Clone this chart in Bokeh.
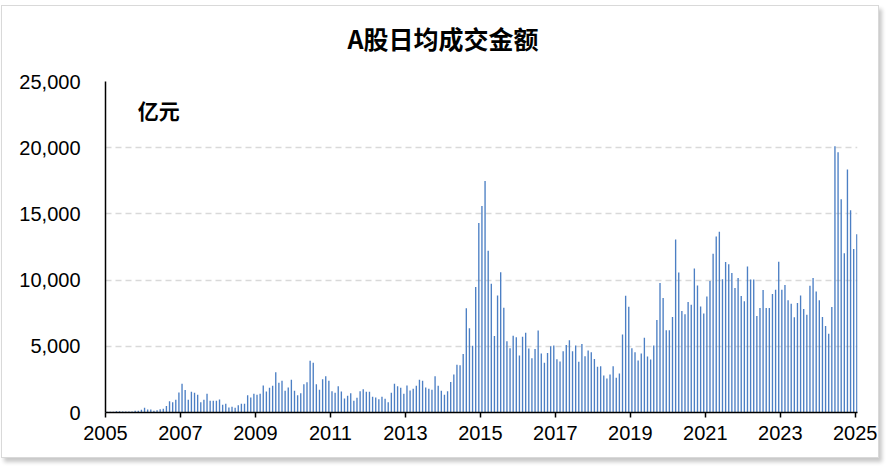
from bokeh.plotting import figure
from bokeh.models import ColumnDataSource, FixedTicker, NumeralTickFormatter, Label, Range1d, Title
from bokeh.embed import file_html
from bokeh.resources import INLINE

# monthly average daily turnover of A-shares (亿元), Jan 2005 onward
turnover = [
    60, 60, 60, 100, 100, 80, 80, 80, 75, 125, 125, 200,
    350, 225, 225, 125, 175, 250, 275, 500, 855, 780, 955, 1510,
    2165, 1690, 955, 1560, 1485, 1335, 780, 955, 1410, 880, 880, 880,
    980, 580, 655, 380, 430, 350, 555, 655, 655, 1310, 1135, 1410,
    1335, 1410, 2040, 1585, 1865, 2015, 3045, 2240, 2390, 1635, 1890, 2470,
    1635, 1310, 1460, 2140, 2290, 3900, 3750, 2140, 1710, 2520, 2745, 2390,
    1610, 1485, 1990, 1585, 1060, 1260, 1460, 880, 1110, 1610, 1760, 1560,
    1560, 1185, 1135, 1005, 1185, 1030, 780, 1485, 2165, 1990, 1865, 1410,
    2040, 1660, 1790, 2015, 2470, 2390, 1890, 1790, 1710, 2745, 2015, 1635,
    1350, 1610, 2300, 2870, 3610, 3575, 4420, 7870, 6370, 5040, 9470, 14310,
    15590, 17480, 12220, 9720, 5770, 8840, 10600, 7910, 5390, 4860, 5790, 5690,
    4310, 5720, 6020, 4840, 4105, 4790, 6200, 4460, 3755, 4485, 5010, 5065,
    4030, 3855, 4635, 5090, 5465, 4635, 5065, 3830, 5165, 4255, 4685, 4550,
    4040, 3450, 3500, 2795, 2570, 2870, 3500, 2620, 2945, 5895, 8815, 7985,
    4860, 4560, 3930, 4460, 5640, 4230, 4005, 5065, 6980, 9775, 8640, 6220,
    6220, 7205, 13075, 10580, 7660, 7430, 8340, 8135, 10880, 9600, 8010, 7480,
    8765, 9925, 11990, 13300, 13650, 10060, 11360, 11200, 10530, 9400, 10150, 8795,
    8395, 11030, 10050, 10050, 7290, 7890, 9250, 7890, 7890, 8945, 9275, 11385,
    9275, 9625, 8470, 8215, 7185, 8270, 8845, 7815, 7390, 9575, 10150, 9145,
    8470, 7210, 6535, 5955, 7965, 20105, 19650, 16110, 12035, 18345, 15280, 12340,
    13470,
]
start_year = 2005
year_ticks = list(range(2005, 2026, 2))
y_ticks = [0, 5000, 10000, 15000, 20000, 25000]
title_text = "A股日均成交金额"
unit_text = "亿元"

xs = [start_year + (i + 0.5) / 12 for i in range(len(turnover))]
src = ColumnDataSource(dict(x=xs, top=turnover))

p = figure(width=878, height=453, output_backend="svg", toolbar_location=None,
           x_range=Range1d(2005, 2025.06), y_range=Range1d(0, 25000),
           min_border_left=103, min_border_right=23, min_border_top=75, min_border_bottom=47)
p.styles = {"border": "1px solid #D9D9D9", "margin-left": "1px", "margin-top": "5px",
            "box-shadow": "3px 4px 4px rgba(0,0,0,0.22)"}
p.outline_line_color = None
p.background_fill_color = "white"
p.border_fill_color = "white"

p.vbar(x="x", top="top", width=0.036, bottom=0, source=src,
       fill_color="#4C7FC4", line_color=None)

# grid
p.xgrid.grid_line_color = None
p.ygrid.ticker = FixedTicker(ticks=y_ticks[1:])
p.ygrid.grid_line_color = "#D9D9D9"
p.ygrid.grid_line_width = 1.6
p.ygrid.grid_line_dash = "6 4"

# x axis
xa = p.xaxis[0]
xa.ticker = FixedTicker(ticks=year_ticks)
xa.axis_line_color = "black"
xa.axis_line_width = 1.5
xa.major_tick_line_color = "black"
xa.major_tick_line_width = 1.5
xa.major_tick_out = 5
xa.major_tick_in = 0
xa.minor_tick_line_color = None
xa.major_label_text_font = "Liberation Sans"
xa.major_label_text_font_size = "20px"
xa.major_label_text_color = "black"
xa.major_label_standoff = 8

# y axis
ya = p.yaxis[0]
ya.ticker = FixedTicker(ticks=y_ticks)
ya.formatter = NumeralTickFormatter(format="0,0")
ya.axis_line_color = "black"
ya.axis_line_width = 1.5
ya.major_tick_line_color = None
ya.minor_tick_line_color = None
ya.major_tick_out = 0
ya.major_tick_in = 0
ya.major_label_text_font = "Liberation Sans"
ya.major_label_text_font_size = "20px"
ya.major_label_text_color = "black"
ya.major_label_standoff = 25

# spacer between frame and title (first added sits closest to the frame)
p.add_layout(Title(text=" ", standoff=8, text_font_size="10px"), "above")
p.add_layout(Title(text=title_text, align="left", offset=242, standoff=10,
                   vertical_align="bottom", text_font="Noto Sans CJK SC",
                   text_font_style="bold", text_font_size="25px", text_color="black"), "above")
p.add_layout(Label(x=2005.86, y=22870, text=unit_text, text_align="left",
                   text_baseline="middle", text_font="Noto Sans CJK SC",
                   text_font_style="bold", text_font_size="21px", text_color="black"))

open("out.html", "w").write(file_html(p, INLINE))
